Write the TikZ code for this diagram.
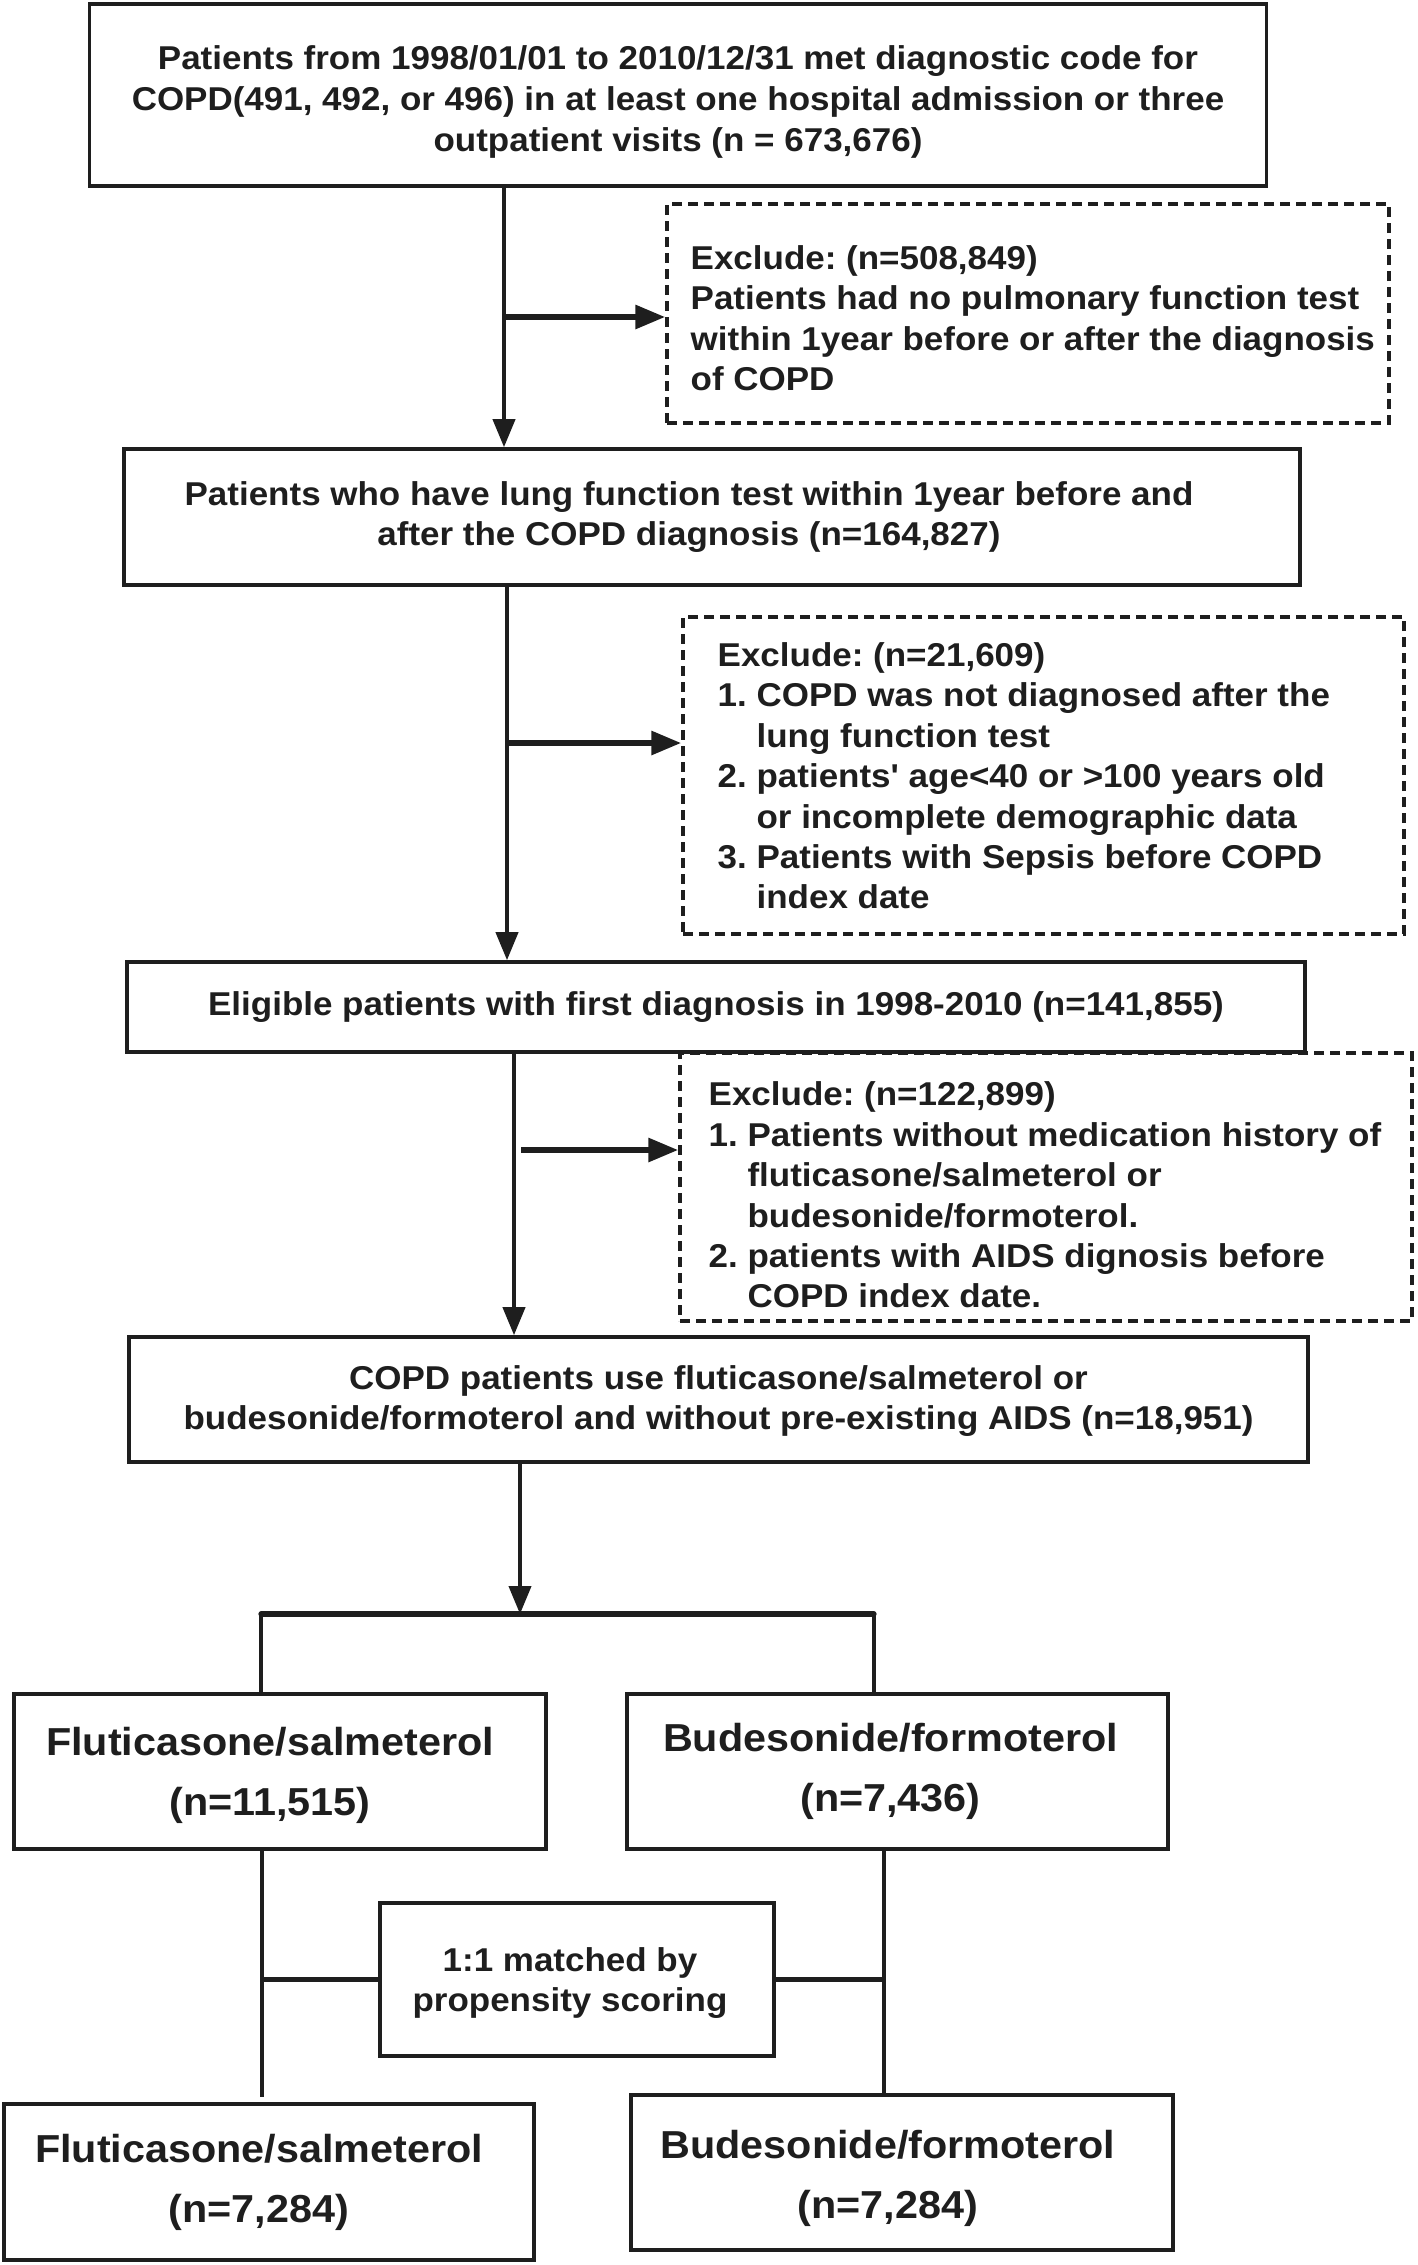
\documentclass[tikz,border=0pt]{standalone}
\usepackage{fontspec}
\setmainfont{Liberation Sans}[FakeStretch=1.06,Ligatures=TeXOff]
\usetikzlibrary{arrows.meta}
\definecolor{ink}{RGB}{30,30,30}
\frenchspacing
\begin{document}
\frenchspacing
\begin{tikzpicture}[x=0.5pt,y=-0.5pt,
  box/.style={draw=ink,line width=1.8pt,rectangle,inner sep=0pt},
  txt/.style={inner sep=0pt,align=center,text=ink,font=\fontsize{16.5}{20}\selectfont\bfseries},
  bigtxt/.style={txt,font=\fontsize{19.5}{30}\selectfont\bfseries},
  exbox/.style={draw=ink,line width=1.7pt,dash pattern=on 5pt off 3pt,rectangle,inner sep=0pt},
  extext/.style={anchor=west,align=left,inner sep=0pt,text=ink,font=\fontsize{16.5}{20.2}\selectfont\bfseries},
  flow/.style={draw=ink,line width=2pt,-{Triangle[length=14pt,width=11pt]}},
  side/.style={draw=ink,line width=3pt,-{Triangle[length=15pt,width=11.5pt]}},
  link/.style={draw=ink,line width=2pt},
  bar/.style={draw=ink,line width=2.6pt,line cap=round}]
\useasboundingbox (0,0) rectangle (1418,2265);

% main boxes
\node[box,minimum width=588.5pt,minimum height=91pt] (b1) at (678,95) {};
\node[txt,font=\fontsize{16.5}{20.5}\selectfont\bfseries] (b1t) at ([yshift=-3.5pt]b1.center)
  {Patients from 1998/01/01 to 2010/12/31 met diagnostic code for\\COPD(491, 492, or 496) in at least one hospital admission or three\\outpatient visits (n = 673,676)};
\node[box,minimum width=588pt,minimum height=68pt] (b2) at (712,517) {};
\node[txt] (b2t) at ([xshift=-11.5pt]b2.center)
  {Patients who have lung function test within 1year before and\\after the COPD diagnosis (n=164,827)};
\node[box,minimum width=589pt,minimum height=45pt] (b3) at (716,1007) {};
\node[txt] (b3t) at (b3.center)
  {Eligible patients with first diagnosis in 1998-2010 (n=141,855)};
\node[box,minimum width=589.5pt,minimum height=62.5pt] (b4) at (718.5,1399.5) {};
\node[txt] (b4t) at ([yshift=-1pt]b4.center)
  {COPD patients use fluticasone/salmeterol or\\budesonide/formoterol and without pre-existing AIDS (n=18,951)};

% exclusion boxes
\node[exbox,minimum width=361pt,minimum height=109.5pt] (e1) at (1028,313.5) {};
\node[extext] (e1t) at ([xshift=12.5pt,yshift=-2.25pt]e1.west)
  {Exclude: (n=508,849)\\Patients had no pulmonary function test\\within 1year before or after the diagnosis\\of COPD};
\node[exbox,minimum width=360.5pt,minimum height=158.5pt] (e2) at (1043.5,775.5) {};
\node[extext] (e2t) at ([xshift=18pt,yshift=-0.25pt]e2.west)
  {Exclude: (n=21,609)\\1. COPD was not diagnosed after the\\\phantom{1. }lung function test\\2. patients' age<40 or >100 years old\\\phantom{2. }or incomplete demographic data\\3. Patients with Sepsis before COPD\\\phantom{3. }index date};
\node[exbox,minimum width=366pt,minimum height=134pt] (e3) at (1046,1187) {};
\node[extext] (e3t) at ([xshift=15pt,yshift=-4pt]e3.west)
  {Exclude: (n=122,899)\\1. Patients without medication history of\\\phantom{1. }fluticasone/salmeterol or\\\phantom{1. }budesonide/formoterol.\\2. patients with AIDS dignosis before\\\phantom{2. }COPD index date.};

% group boxes
\node[box,minimum width=266pt,minimum height=77.5pt] (f1) at (280,1771.5) {};
\node[bigtxt] (f1t) at ([xshift=-5pt,yshift=-2pt]f1.center) {Fluticasone/salmeterol\\(n=11,515)};
\node[box,minimum width=270.5pt,minimum height=77.5pt] (g1) at (897.5,1771.5) {};
\node[bigtxt] (g1t) at ([xshift=-3.5pt]g1.center) {Budesonide/formoterol\\(n=7,436)};
\node[box,minimum width=197pt,minimum height=76.5pt] (m) at (577,1979.5) {};
\node[txt] (mt) at ([xshift=-3.5pt,yshift=-2pt]m.center) {1:1 matched by\\propensity scoring};
\node[box,minimum width=265pt,minimum height=78pt] (f2) at (269,2182) {};
\node[bigtxt] (f2t) at ([xshift=-5pt]f2.center) {Fluticasone/salmeterol\\(n=7,284)};
\node[box,minimum width=271pt,minimum height=77.5pt] (g2) at (902,2172.5) {};
\node[bigtxt] (g2t) at ([xshift=-7pt,yshift=-3pt]g2.center) {Budesonide/formoterol\\(n=7,284)};

% coordinates
\coordinate (x1) at (504,0);
\coordinate (x2) at (507,0);
\coordinate (x3) at (514,0);
\coordinate (x4) at (520,0);
\coordinate (s1) at (504,317);
\coordinate (s2) at (508,743);
\coordinate (s3) at (521,1150);
\coordinate (barL) at (261,1614);
\coordinate (barR) at (874,1614);
\coordinate (lv) at (262,0);
\coordinate (lvEnd) at (262,2097);
\coordinate (rv) at (884,0);

% main flow
\draw[flow] (b1.south -| x1) -- (b2.north -| x1);
\draw[flow] (b2.south -| x2) -- (b3.north -| x2);
\draw[flow] (b3.south -| x3) -- (b4.north -| x3);
\draw[flow] (b4.south -| x4) -- (x4 |- barL);

% exclusions
\draw[side] (s1) -- (s1 -| e1.west);
\draw[side] (s2) -- (s2 -| e2.west);
\draw[side] (s3) -- (s3 -| e3.west);

% split
\draw[bar] (barL) -- (barR);
\draw[link] (barL) -- (barL |- f1.north);
\draw[link] (barR) -- (barR |- g1.north);

% matching
\draw[link] (f1.south -| lv) -- (lvEnd);
\draw[link] (g1.south -| rv) -- (rv |- g2.north);
\draw[bar,line cap=butt] (lv |- m.west) -- (m.west);
\draw[bar,line cap=butt] (m.east) -- (rv |- m.east);
\end{tikzpicture}
\end{document}
